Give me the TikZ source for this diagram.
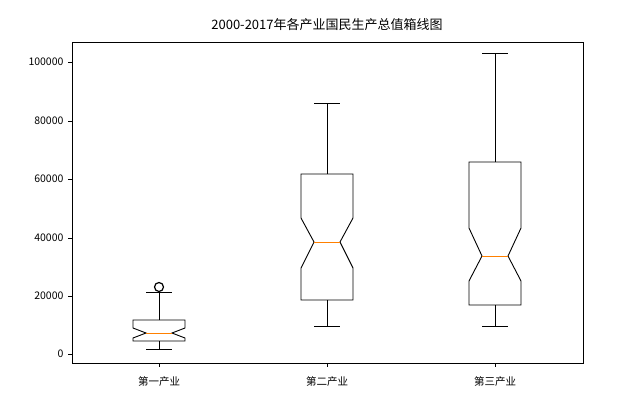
\documentclass[tikz,border=0pt]{standalone}
\usepackage{fontspec}
\setmainfont{Noto Sans CJK SC}
\begin{document}
\begin{tikzpicture}[x=1pt,y=-1pt,
  bx/.style={black,line width=0.9pt},
  med/.style={orange,line width=1pt},
  lbl/.style={font=\fontsize{10.5}{12}\selectfont}]
\useasboundingbox (0,0) rectangle (638,405);
\node[font=\fontsize{13}{15}\selectfont] (title) at (327,25) {2000-2017年各产业国民生产总值箱线图};
\draw[bx] (72,42) rectangle (583,363);
% y ticks
\foreach \v/\y in {0/354,20000/296,40000/238,60000/179,80000/121,100000/62}{
  \draw[bx] (72,\y) -- (68,\y);
  \node[lbl,anchor=east] (yt\v) at (67,\y) {\v};
}
% x ticks
\foreach \x/\t/\n in {159/第一产业/a,327/第二产业/b,495/第三产业/c}{
  \draw[bx] (\x,363) -- (\x,367);
  \node[lbl] (xt\n) at (\x,382) {\t};
}
\foreach \c/\t/\b/\nt/\m/\nb/\wt/\wb in {159/320/341/328/333/338/292/349, 327/174/300/218/242/268/103/326, 495/162/305/228/256/281/53/326}{
  \draw[bx] (\c-26,\t) -- (\c+26,\t) -- (\c+26,\nt) -- (\c+13,\m) -- (\c+26,\nb) -- (\c+26,\b)
     -- (\c-26,\b) -- (\c-26,\nb) -- (\c-13,\m) -- (\c-26,\nt) -- cycle;
  \draw[med] (\c-13,\m) -- (\c+13,\m);
  \draw[bx] (\c,\t) -- (\c,\wt) (\c-13,\wt) -- (\c+13,\wt);
  \draw[bx] (\c,\b) -- (\c,\wb) (\c-13,\wb) -- (\c+13,\wb);
}
\draw[bx,line width=1.2pt] (159,287) circle (4.5);
\end{tikzpicture}
\end{document}
